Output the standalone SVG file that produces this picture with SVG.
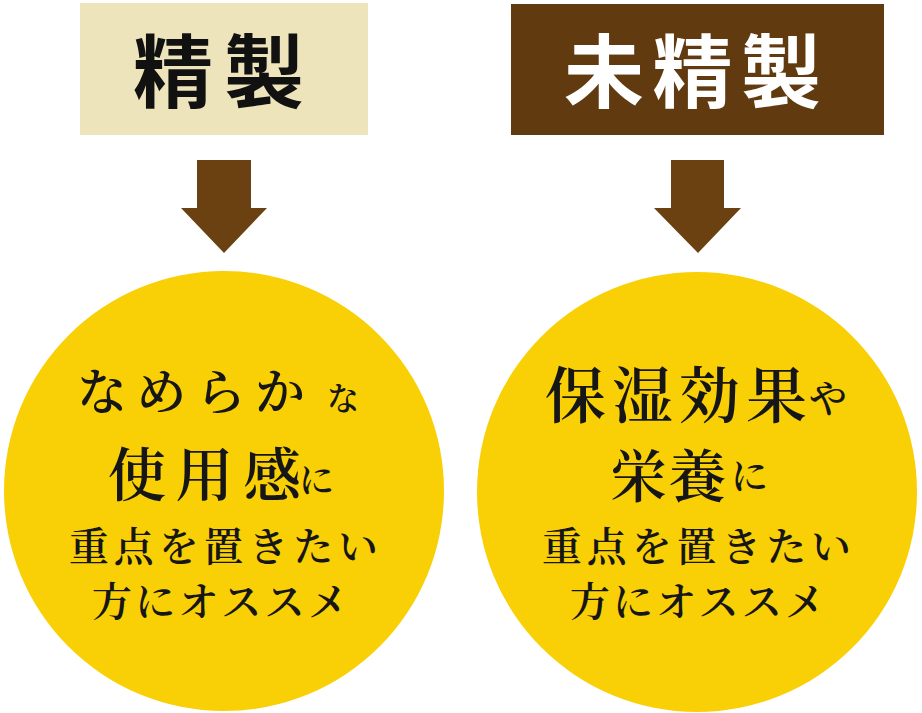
<svg xmlns="http://www.w3.org/2000/svg" width="922" height="713" viewBox="0 0 922 713">
<style>
.hdr{font-family:"Noto Sans CJK JP","Noto Sans CJK SC",sans-serif;font-weight:700;font-size:80px}
.body{font-family:"Noto Serif CJK JP","Noto Sans CJK JP","Noto Sans CJK SC",serif;fill:#161616;font-weight:600}
.arrow{fill:#6B4112}
.circ{fill:#F9CF06}
</style>
<rect width="922" height="713" fill="#ffffff"/>
<g id="refined">
<rect x="80" y="3" width="288" height="132" fill="#EEE4BC"/>
<text class="hdr" x="133" y="101" textLength="171" lengthAdjust="spacing" fill="#111">精製</text>
</g>
<g id="unrefined">
<rect x="511" y="4" width="373" height="131" fill="#613A0F"/>
<text class="hdr" x="564" y="101" textLength="257" lengthAdjust="spacing" fill="#ffffff">未精製</text>
</g>
<g id="connectors">
<polygon class="arrow" points="197,160 251,160 251,208 267,208 224,253 181,208 197,208"/>
<polygon class="arrow" points="671,160 724,160 724,208 741,208 698,253 654,208 671,208"/>
</g>
<g id="smooth">
<circle class="circ" cx="224" cy="491" r="220"/>
<text class="body" x="77" y="410" font-size="50" textLength="228" lengthAdjust="spacing">なめらか</text>
<text class="body" x="327" y="410" font-size="32" textLength="46" lengthAdjust="spacing">な</text>
<text class="body" x="108" y="496" font-size="58" textLength="193" lengthAdjust="spacing">使用感</text>
<text class="body" x="299" y="493" font-size="35" textLength="37" lengthAdjust="spacing">に</text>
<text class="body" x="69" y="561" font-size="40" textLength="309" lengthAdjust="spacing">重点を置きたい</text>
<text class="body" x="92" y="616" font-size="40" textLength="256" lengthAdjust="spacing">方にオススメ</text>
</g>
<g id="moisture">
<circle class="circ" cx="697" cy="492" r="220"/>
<text class="body" x="545" y="418" font-size="61" textLength="262" lengthAdjust="spacing">保湿効果</text>
<text class="body" x="809" y="412" font-size="38" textLength="38" lengthAdjust="spacing">や</text>
<text class="body" x="610" y="497" font-size="57" textLength="116" lengthAdjust="spacing">栄養</text>
<text class="body" x="731" y="490" font-size="37" textLength="43" lengthAdjust="spacing">に</text>
<text class="body" x="542" y="561" font-size="40" textLength="309" lengthAdjust="spacing">重点を置きたい</text>
<text class="body" x="570" y="616" font-size="40" textLength="255" lengthAdjust="spacing">方にオススメ</text>
</g>
</svg>
